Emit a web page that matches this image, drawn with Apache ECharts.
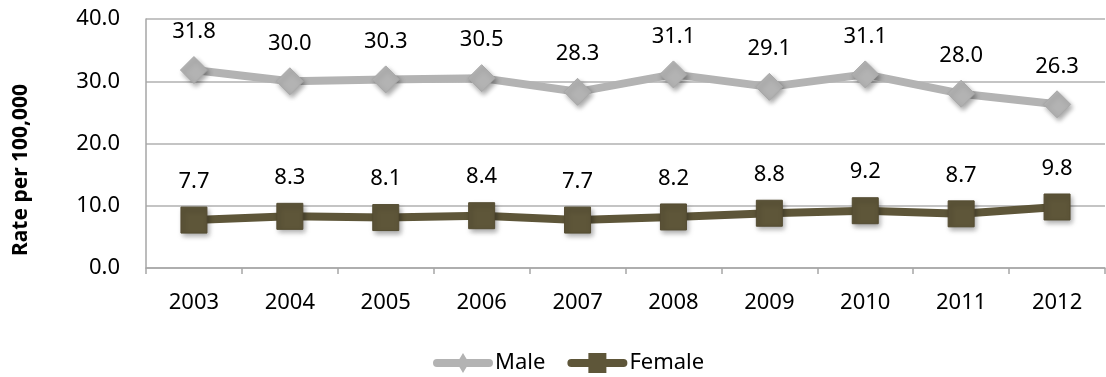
<!DOCTYPE html>
<html><head><meta charset="utf-8">
<script src="https://cdn.jsdelivr.net/npm/echarts@6/dist/echarts.min.js"></script>
<style>html,body{margin:0;padding:0;background:#fff}#c{width:1106px;height:377px}</style>
</head><body><div id="c"></div>
<script>
const years = ['2003','2004','2005','2006','2007','2008','2009','2010','2011','2012'];
const male = [31.8,30.0,30.3,30.5,28.3,31.1,29.1,31.1,28.0,26.3];
const female = [7.7,8.3,8.1,8.4,7.7,8.2,8.8,9.2,8.7,9.8];
const yTicks = {min:0,max:40,interval:10};
const font = 'Noto Sans';
const fs = 22;
const lineIcon = 'M4,6 L56,6 A4,4 0 0 1 56,14 L4,14 A4,4 0 0 1 4,6 Z ';
const maleIcon = 'path://' + lineIcon + 'M30,0 L36,10 L30,20 L24,10 Z';
const femaleIcon = 'path://' + lineIcon + 'M21,0 L39,0 L39,20 L21,20 Z';
const chart = echarts.init(document.getElementById('c'));
const shadow = {shadowColor:'rgba(0,0,0,0.35)',shadowBlur:5,shadowOffsetX:2,shadowOffsetY:3};
chart.setOption({
  animation:false,
  grid:{left:146,right:1,top:19,bottom:109},
  legend:{bottom:3,left:433,padding:0,itemWidth:60,itemHeight:20,itemGap:22,
    itemStyle:{shadowBlur:0,shadowOffsetX:0,shadowOffsetY:0,borderWidth:0},
    textStyle:{fontFamily:font,fontSize:fs,color:'#000',padding:[0,0,0,-3]},
    data:[{name:'Male',icon:maleIcon},{name:'Female',icon:femaleIcon}]},
  graphic:[{type:'text',rotation:Math.PI/2,x:21,y:170,
    style:{text:'Rate per 100,000',fontFamily:font,fontSize:21,fontWeight:'bold',fill:'#000',align:'center',verticalAlign:'middle'}}],
  xAxis:{type:'category',data:years,boundaryGap:true,
    axisLine:{lineStyle:{color:'#a6a6a6',width:1.5}},
    axisTick:{show:true,inside:false,length:6,alignWithLabel:false,lineStyle:{color:'#a6a6a6',width:1.5}},
    axisLabel:{fontFamily:font,fontSize:fs,color:'#000',margin:24}},
  yAxis:{type:'value',min:yTicks.min,max:yTicks.max,interval:yTicks.interval,
    axisLine:{show:true,lineStyle:{color:'#a6a6a6',width:1.5}},
    axisTick:{show:false},
    splitLine:{lineStyle:{color:'#b0b0b0',width:1.5}},
    axisLabel:{fontFamily:font,fontSize:fs,color:'#000',margin:26,formatter:v=>v.toFixed(1)}},
  series:[
    {name:'Male',type:'line',data:male,symbol:'diamond',symbolSize:[27,27],
      lineStyle:{color:'#b3b3b3',width:8},
      itemStyle:Object.assign({color:'#b3b3b3',borderColor:'#a8a8a8',borderWidth:1},shadow),
      label:{show:true,position:'top',distance:13,fontFamily:font,fontSize:fs,color:'#000',formatter:p=>p.value.toFixed(1)}},
    {name:'Female',type:'line',data:female,symbol:'rect',symbolSize:[26,26],
      lineStyle:{color:'#5e5639',width:8},
      itemStyle:Object.assign({color:'#5e5639',borderColor:'#544c32',borderWidth:1},shadow),
      label:{show:true,position:'top',distance:14,fontFamily:font,fontSize:fs,color:'#000',formatter:p=>p.value.toFixed(1)}}
  ]
});
</script></body></html>
